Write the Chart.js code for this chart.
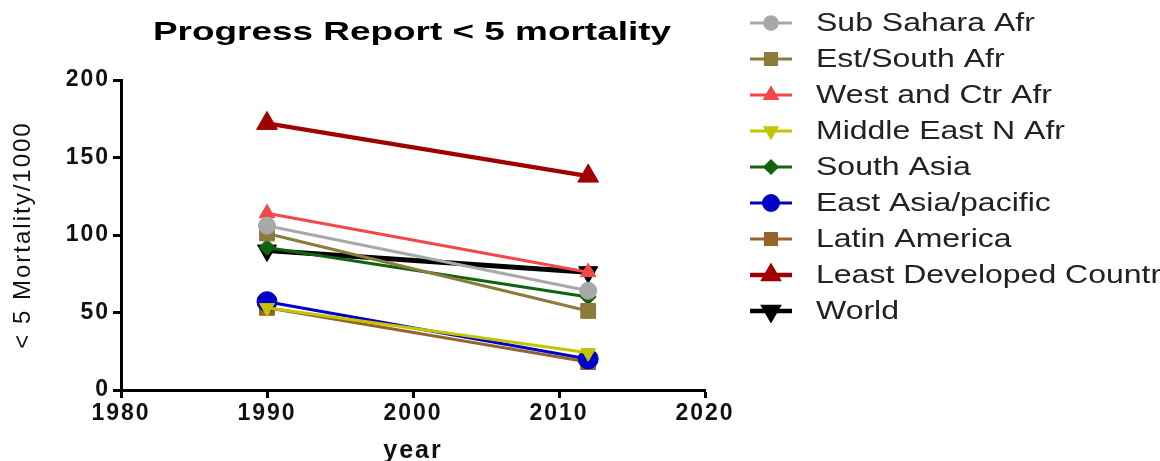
<!DOCTYPE html>
<html>
<head>
<meta charset="utf-8">
<script src="https://cdn.jsdelivr.net/npm/chart.js@4.4.1/dist/chart.umd.min.js"></script>
<style>
  html, body { margin: 0; padding: 0; background: #fff; }
  #wrap { width: 1160px; height: 461px; }
</style>
</head>
<body>
<div id="wrap"><canvas id="chart" width="1160" height="461"></canvas></div>
<script>
// data
const years = [1990, 2012];
const xTicks = [1980, 1990, 2000, 2010, 2020];
const yTicks = [0, 50, 100, 150, 200];

const seriesNames = [
  'Sub Sahara Afr', 'Est/South Afr', 'West and Ctr Afr', 'Middle East N Afr',
  'South Asia', 'East Asia/pacific', 'Latin America', 'Least Developed Countr', 'World'
];
const subSahara = [106, 64];
const estSouth = [101, 51];
const westCtr = [114, 76];
const middleEast = [53, 24];
const southAsia = [92, 60];
const eastAsia = [57, 20];
const latinAmerica = [53, 18];
const leastDeveloped = [172, 138];
const world = [90, 76];

const values = [subSahara, estSouth, westCtr, middleEast, southAsia, eastAsia, latinAmerica, leastDeveloped, world];

const FONT = '"Liberation Sans", Arial, sans-serif';

// look of each series
const styles = [
  { color: '#a8a8a8', fill: '#a8a8a8', shape: 'circle', r: 8.5, rot: 0, lw: 3 },
  { color: '#8c7b3a', fill: '#8c7b3a', shape: 'rect', r: 10.5, rot: 0, lw: 3 },
  { color: '#f34848', fill: '#f34848', shape: 'triangle', r: 9, rot: 0, lw: 3 },
  { color: '#c4c400', fill: '#c4c400', shape: 'triangle', r: 8.5, rot: 180, lw: 3 },
  { color: '#0f650f', fill: '#0f650f', shape: 'rectRot', r: 8, rot: 0, lw: 3 },
  { color: '#0000c8', fill: '#0000c8', shape: 'circle', r: 10, rot: 0, lw: 3 },
  { color: '#96642a', fill: '#96642a', shape: 'rect', r: 10.5, rot: 0, lw: 3 },
  { color: '#a00000', fill: '#a00000', shape: 'triangle', r: 12, rot: 0, lw: 4.5 },
  { color: '#000000', fill: '#000000', shape: 'triangle', r: 11, rot: 180, lw: 5 }
];

const datasets = seriesNames.map((name, i) => ({
  label: name,
  data: years.map((yr, j) => ({ x: yr, y: values[i][j] })),
  borderColor: styles[i].color,
  backgroundColor: styles[i].fill,
  borderWidth: styles[i].lw,
  pointStyle: styles[i].shape,
  pointRadius: styles[i].r,
  pointRotation: styles[i].rot,
  pointBorderWidth: 1,
  pointBorderColor: styles[i].color,
  pointBackgroundColor: styles[i].fill,
  tension: 0
}));

// the original's lettering is wide; space out the axis text a little
const wideText = {
  id: 'wideText',
  beforeLayout(chart) { chart.ctx.letterSpacing = '2px'; },
  beforeDraw(chart) { chart.ctx.letterSpacing = '2px'; }
};

// title and legend, drawn stretched like the original
const sideLegend = {
  id: 'sideLegend',
  afterDraw(chart) {
    const ctx = chart.ctx;
    ctx.save();
    ctx.letterSpacing = '0px';

    // title
    ctx.save();
    ctx.translate(412, 33);
    ctx.scale(1.42, 1);
    ctx.fillStyle = '#000';
    ctx.font = 'bold 26px ' + FONT;
    ctx.textAlign = 'center';
    ctx.textBaseline = 'middle';
    ctx.fillText('Progress Report < 5 mortality', 0, 0);
    ctx.restore();

    chart.data.datasets.forEach((ds, i) => {
      const y = 23 + i * 36;
      ctx.strokeStyle = ds.borderColor;
      ctx.lineWidth = Math.min(ds.borderWidth, 4.5);
      ctx.beginPath();
      ctx.moveTo(750, y);
      ctx.lineTo(792, y);
      ctx.stroke();
      ctx.fillStyle = ds.backgroundColor;
      Chart.helpers.drawPoint(ctx, {
        pointStyle: ds.pointStyle,
        radius: Math.min(ds.pointRadius * 0.75, 8),
        rotation: ds.pointRotation,
        borderWidth: 1
      }, 771, y);
      ctx.save();
      ctx.translate(816, y);
      ctx.scale(1.28, 1);
      ctx.fillStyle = '#222';
      ctx.font = '25px ' + FONT;
      ctx.textBaseline = 'middle';
      ctx.fillText(ds.label, 0, 1);
      ctx.restore();
    });
    ctx.restore();
  }
};

const tickFont = { family: FONT, size: 23, weight: 'bold' };

new Chart(document.getElementById('chart'), {
  type: 'line',
  data: { datasets },
  plugins: [wideText, sideLegend],
  options: {
    responsive: false,
    animation: false,
    layout: { padding: { left: 0, right: 455, top: 80, bottom: 0 } },
    plugins: {
      legend: { display: false },
      tooltip: { enabled: false },
      title: { display: false }
    },
    scales: {
      x: {
        type: 'linear',
        min: 1980,
        max: 2020,
        afterBuildTicks: (s) => { s.ticks = xTicks.map(v => ({ value: v })); },
        afterFit: (s) => { s.height = 71; },
        ticks: { color: '#111', font: tickFont, padding: 2, callback: (v) => String(v) },
        grid: { display: true, drawOnChartArea: false, drawTicks: true, tickLength: 8, tickWidth: 3, tickColor: '#000' },
        border: { display: true, color: '#000', width: 3 },
        title: {
          display: true, text: 'year', color: '#111',
          font: { family: FONT, size: 25, weight: 'bold' },
          padding: { top: 0, bottom: -5 }
        }
      },
      y: {
        min: 0,
        max: 200,
        afterBuildTicks: (s) => { s.ticks = yTicks.map(v => ({ value: v })); },
        afterFit: (s) => { s.width = 121; },
        ticks: { color: '#111', font: tickFont, padding: 3 },
        grid: { display: true, drawOnChartArea: false, drawTicks: true, tickLength: 8, tickWidth: 3, tickColor: '#000' },
        border: { display: true, color: '#000', width: 3 },
        title: {
          display: true, text: '< 5 Mortality/1000', color: '#111',
          font: { family: FONT, size: 24 },
          padding: { top: 9, bottom: 0 }
        }
      }
    }
  }
});
</script>
</body>
</html>
